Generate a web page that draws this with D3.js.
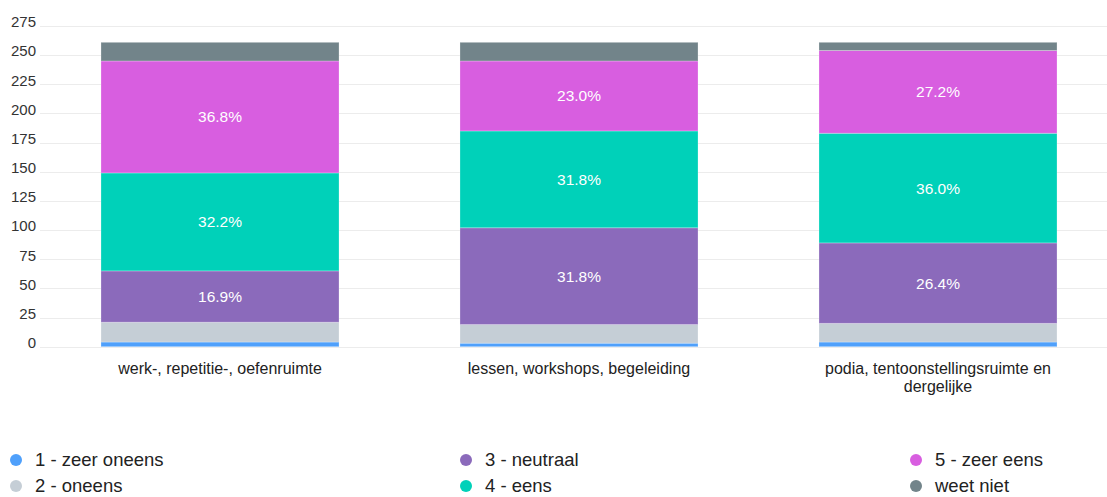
<!DOCTYPE html>
<meta charset="utf-8">
<style>
  body { margin: 0; background: #fff; }
  text { font-family: "Liberation Sans", Arial, sans-serif; }
  .grid line { stroke: #ececec; stroke-width: 1; }
</style>
<body>
<div id="chart"></div>
<script src="https://cdn.jsdelivr.net/npm/d3@7"></script>
<script>

// categories and answer keys
const categories = [
  ["werk-, repetitie-, oefenruimte"],
  ["lessen, workshops, begeleiding"],
  ["podia, tentoonstellingsruimte en", "dergelijke"]
];
const answers = ["1 - zeer oneens", "2 - oneens", "3 - neutraal", "4 - eens", "5 - zeer eens", "weet niet"];
const colors = ["#4fa0fb", "#c5ced6", "#8b6abb", "#00d1b9", "#d85ee0", "#72848a"];

// counts per answer, one entry per category
const zeerOneens = [4, 3, 4];
const oneens = [17, 16, 16];
const neutraal = [44, 83, 69];
const eens = [84, 83, 94];
const zeerEens = [96, 60, 71];
const weetNiet = [16, 16, 7];

const yTicks = [0, 25, 50, 75, 100, 125, 150, 175, 200, 225, 250, 275];

const width = 1107, height = 497;

const svg = d3.select("#chart").append("svg")
    .attr("width", width)
    .attr("height", height);

const series = [zeerOneens, oneens, neutraal, eens, zeerEens, weetNiet];
const rows = categories.map((c, i) => {
  let r = { idx: i };
  series.forEach((s, k) => r[answers[k]] = s[i]);
  return r;
});

const stack = d3.stack().keys(answers);
const stacked = stack(rows);

let x = d3.scaleBand()
    .domain(d3.range(categories.length))
    .range([40.5, 1117.5])
    .paddingInner(0.337)
    .paddingOuter(0.1685);

let y = d3.scaleLinear()
    .domain([0, 275])
    .range([346.7, 26]);

// gridlines
svg.append("g")
   .attr("class", "grid")
   .selectAll("line")
   .data(yTicks)
   .enter().append("line")
    .attr("x1", 40)
    .attr("x2", width)
    .attr("y1", d => Math.round(y(d)) + 0.5)
    .attr("y2", d => Math.round(y(d)) + 0.5);

// y axis labels
let yAxis = d3.axisLeft(y).tickValues(yTicks).tickSize(0).tickPadding(0);
svg.append("g")
   .attr("transform", "translate(36,-4)")
   .call(yAxis)
   .call(g => g.select(".domain").remove())
   .call(g => g.selectAll("text")
      .attr("fill", "#333")
      .style("font-size", "15px")
      .style("font-family", "'Liberation Sans', Arial, sans-serif"));

// bars
let layers = svg.append("g")
   .selectAll("g")
   .data(stacked)
   .enter().append("g")
    .attr("fill", (d, i) => colors[i]);

layers.selectAll("rect")
   .data(d => d)
   .enter().append("rect")
    .attr("x", (d, i) => x(i))
    .attr("width", x.bandwidth())
    .attr("y", d => y(d[1]))
    .attr("height", d => y(d[0]) - y(d[1]))
    .attr("stroke", "rgba(255,255,255,0.25)")
    .attr("stroke-width", 1);

// percentage labels
stacked.forEach((layer, k) => {
  layer.forEach((d, i) => {
    let total = d3.sum(series, s => s[i]);
    let share = (d[1] - d[0]) / total;
    if (share < 0.1) return;
    svg.append("text")
       .attr("x", x(i) + x.bandwidth() / 2)
       .attr("y", (y(d[0]) + y(d[1])) / 2)
       .attr("dy", "0.35em")
       .attr("text-anchor", "middle")
       .attr("fill", "#fff")
       .style("font-size", "15.5px")
       .text((share * 100).toFixed(1) + "%");
  });
});

// category labels
categories.forEach((lines, i) => {
  let t = svg.append("text")
     .attr("text-anchor", "middle")
     .attr("fill", "#222")
     .style("font-size", "16px");
  lines.forEach((line, j) => {
    t.append("tspan")
     .attr("x", x(i) + x.bandwidth() / 2)
     .attr("y", 374 + j * 18)
     .text(line);
  });
});

// legend, column-major in three columns
const legendX = [16, 466, 916];
const legendY = [460, 486];
let legend = svg.append("g")
   .selectAll("g")
   .data(answers)
   .enter().append("g")
    .attr("transform", (d, i) => "translate(" + legendX[Math.floor(i / 2)] + "," + legendY[i % 2] + ")");

legend.append("circle")
    .attr("r", 6)
    .attr("fill", (d, i) => colors[i]);

legend.append("text")
    .attr("x", 19)
    .attr("dy", "0.35em")
    .attr("fill", "#222")
    .style("font-size", "18.5px")
    .text(d => d);

</script>
</body>
</html>
